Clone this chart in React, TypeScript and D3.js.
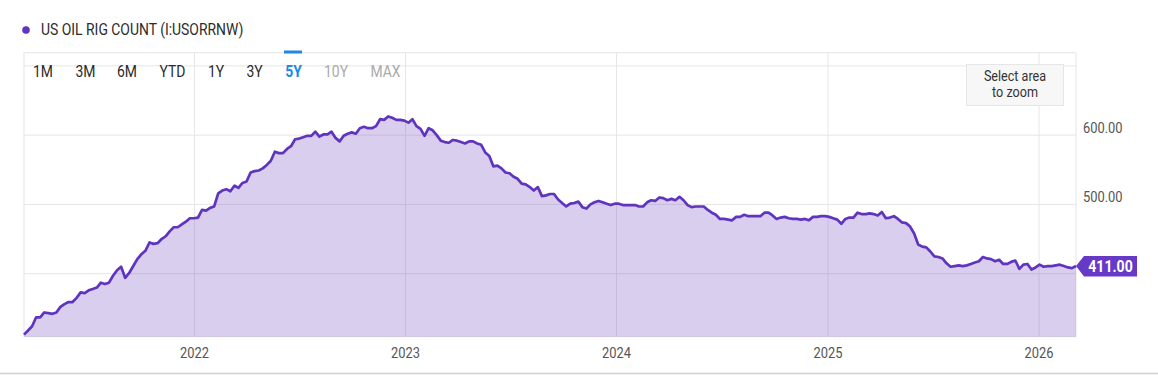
import React from "react";
import * as d3 from "d3";

// Weekly US oil rig count (Fridays). Each array starts at the given date.
const start2021 = "2021-03-12";
const rigs2021 = [312, 318, 324, 337, 337, 344, 343, 342, 344, 352, 356, 359, 359, 365, 373, 372, 376, 378, 380, 387, 385, 387, 397, 405, 410, 394, 401, 411, 421, 428, 433, 445, 443, 444, 450, 454, 461, 467, 467, 471, 475, 480, 480];
const start2022 = "2022-01-07";
const rigs2022 = [481, 492, 491, 495, 497, 516, 520, 522, 519, 527, 524, 531, 533, 546, 548, 549, 552, 557, 563, 576, 574, 574, 580, 584, 594, 595, 597, 599, 599, 605, 598, 601, 601, 605, 596, 591, 599, 602, 604, 602, 610, 612, 610, 610, 613, 623, 622, 627, 625, 622, 622, 621];
const start2023 = "2023-01-06";
const rigs2023 = [618, 623, 613, 609, 599, 610, 607, 600, 592, 590, 589, 593, 592, 590, 588, 591, 591, 588, 586, 575, 570, 555, 556, 552, 546, 545, 540, 537, 530, 529, 525, 520, 525, 512, 513, 515, 515, 507, 502, 497, 501, 502, 504, 496, 494, 500, 503, 505, 503, 501, 499, 501];
const start2024 = "2024-01-05";
const rigs2024 = [501, 499, 499, 499, 499, 497, 497, 503, 506, 505, 510, 509, 506, 508, 506, 511, 506, 499, 496, 497, 497, 497, 492, 488, 485, 479, 479, 478, 477, 482, 482, 485, 483, 483, 483, 483, 488, 488, 484, 479, 481, 482, 480, 479, 479, 478, 479, 477, 482, 482, 483, 483];
const start2025 = "2025-01-03";
const rigs2025 = [482, 480, 478, 472, 479, 481, 481, 488, 486, 486, 487, 486, 484, 489, 480, 481, 483, 479, 474, 473, 468, 458, 442, 439, 438, 432, 425, 424, 422, 415, 410, 411, 412, 411, 412, 414, 416, 418, 424, 422, 421, 418, 420, 414, 414, 417, 419, 407, 413, 414, 406, 409];
const start2026 = "2026-01-02";
const rigs2026 = [413, 410, 411, 411, 412, 413, 411, 409, 408, 411];

const yearTicks = ["2022", "2023", "2024", "2025", "2026"];
const yGridValues = [400, 500, 600, 700];
const yLabelValues = [500, 600];
const rangeButtons = ["1M", "3M", "6M", "YTD", "1Y", "3Y", "5Y", "10Y", "MAX"];
const activeButton = "5Y";
const disabledButtons = ["10Y", "MAX"];
const title = "US OIL RIG COUNT (I:USORRNW)";
const lastValue = 411;

const W = 1158;
const H = 375;
const left = 24;
const right = 1076;
const top = 52.7;
const bottom = 336.7;

const purple = "#5f34bf";
const font = "Roboto, 'Noto Sans', sans-serif";

type Pt = { date: Date; value: number };
const parse = d3.timeParse("%Y-%m-%d");
function weekly(startStr: string, values: number[]): Pt[] {
  const s = parse(startStr) as Date;
  return values.map((v, i) => ({ date: d3.timeDay.offset(s, i * 7), value: v }));
}
const data: Pt[] = [
  ...weekly(start2021, rigs2021),
  ...weekly(start2022, rigs2022),
  ...weekly(start2023, rigs2023),
  ...weekly(start2024, rigs2024),
  ...weekly(start2025, rigs2025),
  ...weekly(start2026, rigs2026),
];

function T(props: {
  x: number; y: number; size: number; sx?: number; anchor?: string;
  weight?: string | number; fill?: string; children: React.ReactNode;
}) {
  const { x, y, size, sx = 0.88, anchor = "start", weight = "normal", fill = "#333", children } = props;
  return (
    <text
      transform={`translate(${x},${y}) scale(${sx},1)`}
      fontFamily={font}
      fontSize={size}
      fontWeight={weight as any}
      fill={fill}
      textAnchor={anchor as any}
    >
      {children}
    </text>
  );
}

export default function App() {
  const x = d3
    .scaleTime()
    .domain([data[0].date, data[data.length - 1].date])
    .range([left, right]);
  const y = d3.scaleLinear().domain([309, 719]).range([bottom, top]);

  const area = d3
    .area<Pt>()
    .x((d) => x(d.date))
    .y0(bottom)
    .y1((d) => y(d.value));
  const line = d3
    .line<Pt>()
    .x((d) => x(d.date))
    .y((d) => y(d.value));

  const last = data[data.length - 1];
  const lx = x(last.date);
  const ly = y(lastValue);

  const btnX = [43, 85.5, 127, 172.5, 216, 254.5, 293.5, 336, 385.5];

  return (
    <svg
      width={W}
      height={H}
      style={{ position: "absolute", left: 0, top: 0, background: "#fff" }}
    >
      {/* Title */}
      <circle cx={26} cy={30} r={3.8} fill={purple} />
      <T x={41} y={34.5} size={16} sx={0.87} fill="#2b2b2b">{title}</T>

      {/* grid */}
      {yGridValues.map((v) => (
        <line key={v} x1={left} x2={right} y1={y(v)} y2={y(v)} stroke="#e6e6e6" strokeWidth={1} />
      ))}
      {yearTicks.map((t) => {
        const xv = x(parse(`${t}-01-01`) as Date);
        return <line key={t} x1={xv} x2={xv} y1={top} y2={bottom} stroke="#e6e6e6" strokeWidth={1} />;
      })}
      <rect x={left} y={top} width={right - left} height={bottom - top} fill="none" stroke="#e6e6e6" strokeWidth={1} />

      {/* area + line */}
      <path d={area(data) || ""} fill="rgba(103,58,183,0.25)" />
      <path d={line(data) || ""} fill="none" stroke={purple} strokeWidth={2.7} strokeLinejoin="round" />

      {/* x labels */}
      {yearTicks.map((t) => {
        const xv = x(parse(`${t}-01-01`) as Date);
        return (
          <T key={t} x={xv} y={358} size={15} sx={0.86} anchor="middle" fill="#555">{t}</T>
        );
      })}

      {/* y labels */}
      {yLabelValues.map((v) => (
        <T key={v} x={1083} y={y(v) - 2.5} size={15} sx={0.86} fill="#555">{d3.format(".2f")(v)}</T>
      ))}

      {/* range buttons */}
      {rangeButtons.map((b, i) => {
        const active = b === activeButton;
        const disabled = disabledButtons.includes(b);
        return (
          <T
            key={b}
            x={btnX[i]}
            y={77}
            size={16}
            sx={0.87}
            anchor="middle"
            weight={active ? "bold" : "normal"}
            fill={active ? "#1e88e5" : disabled ? "#aaa" : "#2b2b2b"}
          >
            {b}
          </T>
        );
      })}
      <rect x={284} y={50.5} width={18} height={3} fill="#1e88e5" />

      {/* zoom hint */}
      <rect x={966.5} y={64.5} width={97} height={41} fill="#f7f7f7" stroke="#e6e6e6" />
      <T x={1015} y={81} size={14} sx={0.9} anchor="middle">Select area</T>
      <T x={1015} y={97} size={14} sx={0.9} anchor="middle">to zoom</T>

      {/* last value flag */}
      <path
        d={`M${lx},${ly} L${lx + 8},${ly - 10} L${lx + 61},${ly - 10} L${lx + 61},${ly + 10.5} L${lx + 8},${ly + 10.5} Z`}
        fill="#6639c6"
      />
      <T x={lx + 34.5} y={ly + 5.7} size={16} sx={0.88} anchor="middle" weight="bold" fill="#fff">
        {d3.format(".2f")(lastValue)}
      </T>

      {/* bottom border */}
      <line x1={0} x2={W} y1={373.5} y2={373.5} stroke="#cfcfcf" strokeWidth={1.5} />
    </svg>
  );
}
